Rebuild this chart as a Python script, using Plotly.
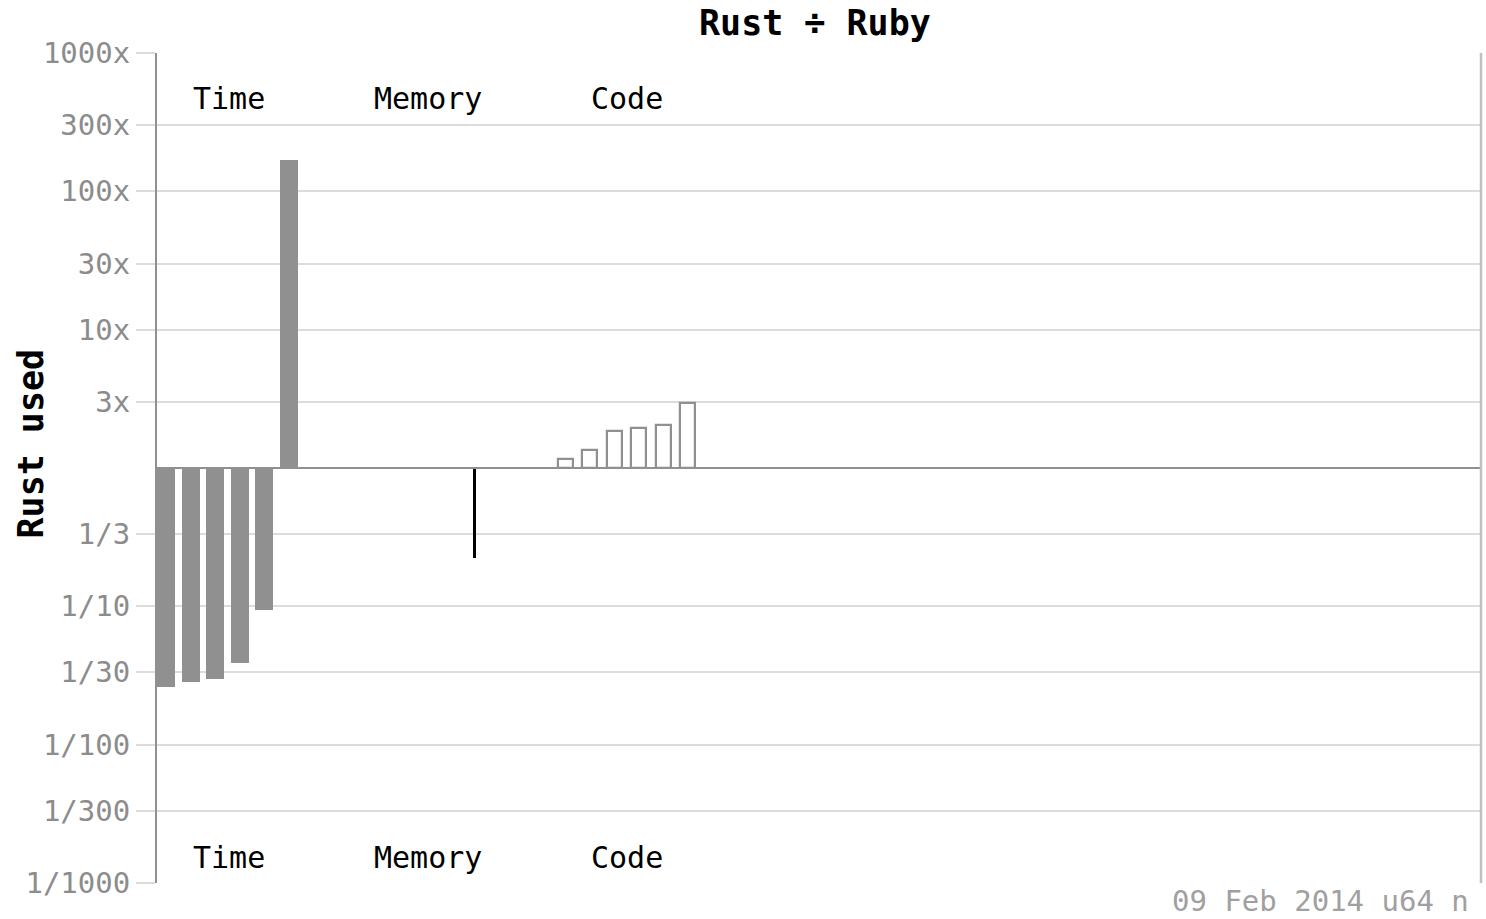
import plotly.graph_objects as go

# ---- data (ratios Rust / Ruby) ----
time_ratios = [0.0259, 0.0286, 0.0300, 0.0387, 0.0934, 169.5]
memory_ratios = [0.223]
code_ratios = [1.16, 1.35, 1.85, 1.95, 2.06, 2.95]
group_labels = ["Time", "Memory", "Code"]
tick_values = [1000, 300, 100, 30, 10, 3, 1/3, 1/10, 1/30, 1/100, 1/300, 1/1000]
tick_labels = ["1000x", "300x", "100x", "30x", "10x", "3x",
               "1/3", "1/10", "1/30", "1/100", "1/300", "1/1000"]
title_text = "Rust ÷ Ruby"
y_title = "Rust used"
footer_text = "09 Feb 2014 u64 n"

# ---- layout helpers (positions in x-axis units) ----
PITCH = 24.5
time_x = [9 + PITCH * i for i in range(len(time_ratios))]
memory_x = [317.3 + PITCH * i for i in range(len(memory_ratios))]
code_x = [408 + PITCH * i for i in range(len(code_ratios))]
label_x = [71.5, 271, 470]

GRAY = "#909090"
GRID = "#dcdcdc"
MONO = "DejaVu Sans Mono"

fig = go.Figure()
fig.add_trace(go.Bar(
    x=time_x, y=[v - 1 for v in time_ratios], base=[1] * len(time_ratios),
    width=18, marker=dict(color=GRAY, line=dict(width=0)), showlegend=False,
))
fig.add_trace(go.Bar(
    x=memory_x, y=[v - 1 for v in memory_ratios], base=[1] * len(memory_ratios),
    width=2.6, marker=dict(color="black", line=dict(width=0)), showlegend=False,
))
fig.add_trace(go.Bar(
    x=code_x, y=[v - 1 for v in code_ratios], base=[1] * len(code_ratios),
    width=15, marker=dict(color="white", line=dict(color=GRAY, width=2.2)), showlegend=False,
))

annotations = []
for lab, lx in zip(group_labels, label_x):
    for yy in (0.9455, 0.0305):
        annotations.append(dict(
            text=lab, x=lx, xref="x", y=yy, yref="paper", showarrow=False,
            xanchor="center", yanchor="middle",
            font=dict(family=MONO, size=30, color="black"),
        ))
annotations.append(dict(
    text="<b>" + title_text + "</b>", x=0.497, xref="paper", y=1.036, yref="paper",
    showarrow=False, xanchor="center", yanchor="middle",
    font=dict(family=MONO, size=35, color="black"),
))
annotations.append(dict(
    text="<b>" + y_title + "</b>", x=-0.0955, xref="paper", y=0.529, yref="paper",
    showarrow=False, xanchor="center", yanchor="middle", textangle=-90,
    font=dict(family=MONO, size=35, color="black"),
))
annotations.append(dict(
    text=footer_text, x=0.765, xref="paper", y=-0.022, yref="paper",
    showarrow=False, xanchor="left", yanchor="middle",
    font=dict(family=MONO, size=29, color="#a0a0a0"),
))

fig.update_layout(
    width=1486, height=919,
    margin=dict(l=157, r=5, t=53, b=36),
    paper_bgcolor="white", plot_bgcolor="white",
    bargap=0, barmode="overlay",
    annotations=annotations,
    shapes=[
        dict(type="line", xref="paper", x0=0, x1=1, yref="y", y0=1, y1=1,
             line=dict(color=GRAY, width=2), layer="above"),
        dict(type="line", xref="paper", x0=1, x1=1, yref="paper", y0=0, y1=1,
             line=dict(color="#c0c0c0", width=2.5)),
    ],
    xaxis=dict(range=[0, 1324], visible=False, fixedrange=True),
    yaxis=dict(
        type="log", range=[-3, 3],
        tickmode="array", tickvals=tick_values, ticktext=tick_labels,
        showgrid=True, gridcolor=GRID, gridwidth=2,
        ticks="outside", ticklen=19, tickcolor=GRID, tickwidth=2,
        showline=True, linecolor=GRAY, linewidth=2,
        tickfont=dict(family=MONO, size=29, color="#8c8c8c"),
        zeroline=False,
    ),
)

fig.write_html(
    "out.html",
    config={"displayModeBar": False},
    post_script="document.body.style.margin='0';document.body.style.overflow='hidden';",
)
